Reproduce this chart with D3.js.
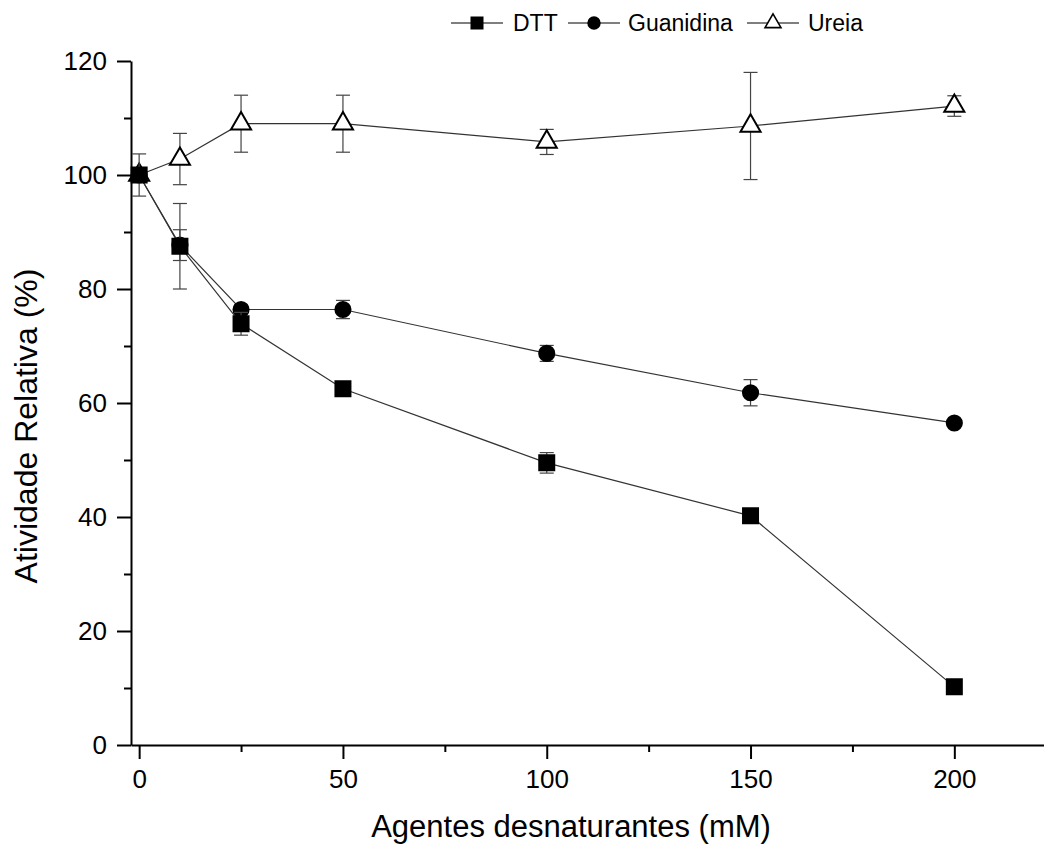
<!DOCTYPE html>
<html>
<head>
<meta charset="utf-8">
<script src="https://cdn.jsdelivr.net/npm/d3@7"></script>
<style>
  body { margin: 0; background: #fff; }
  text { font-family: "Liberation Sans", Arial, sans-serif; fill: #000; }
</style>
</head>
<body>
<div id="chart"></div>
<script>
// concentrations (mM)
const conc = [0, 10, 25, 50, 100, 150, 200];

const dtt = [100, 87.5, 73.9, 62.5, 49.5, 40.2, 10.2];
const dttErr = [3.7, 7.5, 2.0, 0.6, 1.8, 0.5, 0.5];

const guanidina = [100, 87.7, 76.4, 76.4, 68.7, 61.8, 56.5];
const guanidinaErr = [0.5, 2.7, 0.8, 1.6, 1.4, 2.3, 0.5];

const ureia = [100, 102.8, 109.0, 109.0, 105.8, 108.6, 112.1];
const ureiaErr = [0.5, 4.5, 5.0, 5.0, 2.2, 9.4, 1.8];

const xTicks = [0, 50, 100, 150, 200];
const xMinor = [25, 75, 125, 175];
const yTicks = [0, 20, 40, 60, 80, 100, 120];
const yMinor = [10, 30, 50, 70, 90, 110];

const width = 1044;
const height = 850;

const svg = d3.select('#chart')
    .append('svg')
    .attr('width', width)
    .attr('height', height);

const x = d3.scaleLinear().domain([-2, 222]).range([131, 1044]);
const y = d3.scaleLinear().domain([0, 120]).range([745, 61]);

// minor ticks first, major axes on top
svg.append('g')
    .attr('transform', 'translate(0,' + y(0) + ')')
    .call(d3.axisBottom(x).tickValues(xMinor).tickSize(7).tickSizeOuter(0).tickFormat(''))
    .call(g => g.select('.domain').remove())
    .call(g => g.selectAll('line').attr('stroke-width', 2));

svg.append('g')
    .attr('transform', 'translate(' + x(-2) + ',0)')
    .call(d3.axisLeft(y).tickValues(yMinor).tickSize(7).tickSizeOuter(0).tickFormat(''))
    .call(g => g.select('.domain').remove())
    .call(g => g.selectAll('line').attr('stroke-width', 2));

svg.append('g')
    .attr('transform', 'translate(0,' + y(0) + ')')
    .call(d3.axisBottom(x).tickValues(xTicks).tickSize(14).tickSizeOuter(0).tickPadding(11))
    .call(g => g.select('.domain').attr('stroke-width', 2))
    .call(g => g.selectAll('line').attr('stroke-width', 2))
    .call(g => g.selectAll('text').attr('font-size', 26).attr('font-family', 'Liberation Sans, Arial, sans-serif'));

svg.append('g')
    .attr('transform', 'translate(' + x(-2) + ',0)')
    .call(d3.axisLeft(y).tickValues(yTicks).tickSize(14).tickSizeOuter(0).tickPadding(10))
    .call(g => g.select('.domain').attr('stroke-width', 2))
    .call(g => g.selectAll('line').attr('stroke-width', 2))
    .call(g => g.selectAll('text').attr('font-size', 26).attr('font-family', 'Liberation Sans, Arial, sans-serif'));

// axis titles
svg.append('text')
    .attr('x', 571)
    .attr('y', 837)
    .attr('text-anchor', 'middle')
    .attr('font-size', 31)
    .text('Agentes desnaturantes (mM)');

svg.append('text')
    .attr('transform', 'translate(37,426) rotate(-90)')
    .attr('text-anchor', 'middle')
    .attr('font-size', 32)
    .text('Atividade Relativa (%)');

const series = [
    {name: 'Ureia', vals: ureia, err: ureiaErr, symbol: d3.symbolTriangle, size: 175, fill: '#fff'},
    {name: 'Guanidina', vals: guanidina, err: guanidinaErr, symbol: d3.symbolCircle, size: 180, fill: '#000'},
    {name: 'DTT', vals: dtt, err: dttErr, symbol: d3.symbolSquare, size: 225, fill: '#000'}
];

const line = d3.line()
    .x(d => x(d.c))
    .y(d => y(d.v));

series.forEach(s => {
    const pts = conc.map((c, i) => ({c: c, v: s.vals[i], e: s.err[i]}));
    const g = svg.append('g');

    g.append('path')
        .datum(pts)
        .attr('d', line)
        .attr('fill', 'none')
        .attr('stroke', '#333')
        .attr('stroke-width', 1.2);

    const eb = g.selectAll('g.err').data(pts).enter().append('g').attr('class', 'err');
    eb.append('line')
        .attr('x1', d => x(d.c)).attr('x2', d => x(d.c))
        .attr('y1', d => y(d.v - d.e)).attr('y2', d => y(d.v + d.e));
    eb.append('line')
        .attr('x1', d => x(d.c) - 7).attr('x2', d => x(d.c) + 7)
        .attr('y1', d => y(d.v + d.e)).attr('y2', d => y(d.v + d.e));
    eb.append('line')
        .attr('x1', d => x(d.c) - 7).attr('x2', d => x(d.c) + 7)
        .attr('y1', d => y(d.v - d.e)).attr('y2', d => y(d.v - d.e));
    eb.selectAll('line').attr('stroke', '#444').attr('stroke-width', 1.2);

    g.selectAll('path.mark').data(pts).enter()
        .append('path')
        .attr('class', 'mark')
        .attr('d', d3.symbol().type(s.symbol).size(s.size))
        .attr('transform', d => 'translate(' + x(d.c) + ',' + y(d.v) + ')')
        .attr('fill', s.fill)
        .attr('stroke', '#000')
        .attr('stroke-width', 2);
});

// legend
const legend = [
    {name: 'DTT', symbol: d3.symbolSquare, size: 130, fill: '#000', x0: 451, tx: 513},
    {name: 'Guanidina', symbol: d3.symbolCircle, size: 110, fill: '#000', x0: 568, tx: 628},
    {name: 'Ureia', symbol: d3.symbolTriangle, size: 110, fill: '#fff', x0: 747, tx: 808}
];
const lg = svg.append('g');
legend.forEach(l => {
    lg.append('line')
        .attr('x1', l.x0).attr('x2', l.x0 + 52)
        .attr('y1', 23).attr('y2', 23)
        .attr('stroke', '#000').attr('stroke-width', 1.2);
    lg.append('path')
        .attr('d', d3.symbol().type(l.symbol).size(l.size))
        .attr('transform', 'translate(' + (l.x0 + 26) + ',23)')
        .attr('fill', l.fill)
        .attr('stroke', '#000')
        .attr('stroke-width', 1.6);
    lg.append('text')
        .attr('x', l.tx)
        .attr('y', 31)
        .attr('font-size', 23)
        .text(l.name);
});
</script>
</body>
</html>
